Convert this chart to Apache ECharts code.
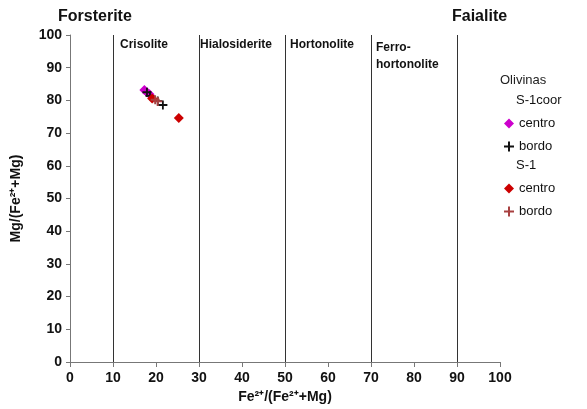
<!DOCTYPE html>
<html>
<head>
<meta charset="utf-8">
<script src="https://cdn.jsdelivr.net/npm/echarts@6/dist/echarts.min.js"></script>
<style>
  html, body { margin: 0; padding: 0; background: #fff; }
  #chart { width: 587px; height: 409px; }
</style>
</head>
<body>
<div id="chart"></div>
<script>
// olivine compositions, x = Fe2+/(Fe2+ + Mg), y = Mg/(Fe2+ + Mg)
const s1coorCentro = [[17.3, 83.2], [17.9, 82.5], [18.5, 81.9]]
const s1coorBordo = [[17.9, 82.5], [18.6, 81.4], [20.4, 79.8], [21.6, 78.6]]
const s1Centro = [[19.1, 80.6], [25.3, 74.6]]
const s1Bordo = [[19.8, 80.2], [20.4, 79.7]]

const fieldBounds = [10, 30, 50, 70, 90]
const xTicks = [0, 10, 20, 30, 40, 50, 60, 70, 80, 90, 100]

const plusPath = 'path://M4,0h2v4h4v2h-4v4h-2v-4h-4v-2h4z'
const font = 'Liberation Sans, Arial, sans-serif'

const legendNames = {
  s1coor_centro: 'centro',
  s1coor_bordo: 'bordo',
  s1_centro: 'centro',
  s1_bordo: 'bordo'
}

const chart = echarts.init(document.getElementById('chart'), null, { renderer: 'canvas' })

const axisLabel = { color: '#111', fontFamily: font, fontWeight: 'bold', fontSize: 14 }
const axisLine = { lineStyle: { color: '#777', width: 1 } }

chart.setOption({
  animation: false,
  backgroundColor: '#fff',
  grid: { left: 70, right: 87, top: 35, bottom: 43 },
  xAxis: {
    type: 'value',
    min: 0,
    max: 100,
    interval: 10,
    name: 'Fe²⁺/(Fe²⁺+Mg)',
    nameLocation: 'middle',
    nameGap: 28,
    nameTextStyle: { color: '#111', fontFamily: font, fontWeight: 'bold', fontSize: 14 },
    axisLine,
    axisTick: { length: 5, lineStyle: { color: '#777' } },
    axisLabel: { ...axisLabel, margin: 9, formatter: v => (xTicks.includes(v) ? String(v) : '') },
    splitLine: { show: false }
  },
  yAxis: {
    type: 'value',
    min: 0,
    max: 100,
    interval: 10,
    name: 'Mg/(Fe²⁺+Mg)',
    nameLocation: 'middle',
    nameGap: 47,
    nameTextStyle: { color: '#111', fontFamily: font, fontWeight: 'bold', fontSize: 14 },
    axisLine,
    axisTick: { length: 4, lineStyle: { color: '#777' } },
    axisLabel: { ...axisLabel, margin: 8 },
    splitLine: { show: false }
  },
  legend: [
    {
      orient: 'vertical',
      left: 499,
      top: 112,
      itemWidth: 10,
      itemHeight: 10,
      itemGap: 10,
      textStyle: { color: '#111', fontFamily: font, fontSize: 13 },
      formatter: n => legendNames[n],
      data: ['s1coor_centro', 's1coor_bordo']
    },
    {
      orient: 'vertical',
      left: 499,
      top: 177,
      itemWidth: 10,
      itemHeight: 10,
      itemGap: 10,
      textStyle: { color: '#111', fontFamily: font, fontSize: 13 },
      formatter: n => legendNames[n],
      data: ['s1_centro', 's1_bordo']
    }
  ],
  graphic: [
    { type: 'text', left: 58, top: 9, style: { text: 'Forsterite', font: 'bold 16px ' + font, fill: '#111' } },
    { type: 'text', left: 452, top: 9, style: { text: 'Faialite', font: 'bold 16px ' + font, fill: '#111' } },
    { type: 'text', left: 120, top: 39, style: { text: 'Crisolite', font: 'bold 12px ' + font, fill: '#111' } },
    { type: 'text', left: 200, top: 39, style: { text: 'Hialosiderite', font: 'bold 12px ' + font, fill: '#111' } },
    { type: 'text', left: 290, top: 39, style: { text: 'Hortonolite', font: 'bold 12px ' + font, fill: '#111' } },
    { type: 'text', left: 376, top: 39, style: { text: 'Ferro-\nhortonolite', font: 'bold 12px ' + font, fill: '#111', lineHeight: 17 } },
    { type: 'text', left: 500, top: 74, style: { text: 'Olivinas', font: '13px ' + font, fill: '#222' } },
    { type: 'text', left: 516, top: 94, style: { text: 'S-1coor', font: '13px ' + font, fill: '#111' } },
    { type: 'text', left: 516, top: 159, style: { text: 'S-1', font: '13px ' + font, fill: '#111' } }
  ],
  series: [
    {
      type: 'line',
      data: [],
      silent: true,
      markLine: {
        silent: true,
        symbol: ['none', 'none'],
        label: { show: false },
        lineStyle: { color: '#333', width: 1, type: 'solid' },
        data: fieldBounds.map(v => ({ xAxis: v }))
      }
    },
    {
      name: 's1coor_centro',
      type: 'scatter',
      symbol: 'diamond',
      symbolSize: 10,
      itemStyle: { color: '#cc00cc', opacity: 1 },
      data: s1coorCentro
    },
    {
      name: 's1coor_bordo',
      type: 'scatter',
      symbol: plusPath,
      symbolSize: 9,
      itemStyle: { color: '#111', opacity: 1 },
      data: s1coorBordo
    },
    {
      name: 's1_centro',
      type: 'scatter',
      symbol: 'diamond',
      symbolSize: 10,
      itemStyle: { color: '#cc0000', opacity: 1 },
      data: s1Centro
    },
    {
      name: 's1_bordo',
      type: 'scatter',
      symbol: plusPath,
      symbolSize: 9,
      itemStyle: { color: '#a84040', opacity: 1 },
      data: s1Bordo
    }
  ]
})
</script>
</body>
</html>
